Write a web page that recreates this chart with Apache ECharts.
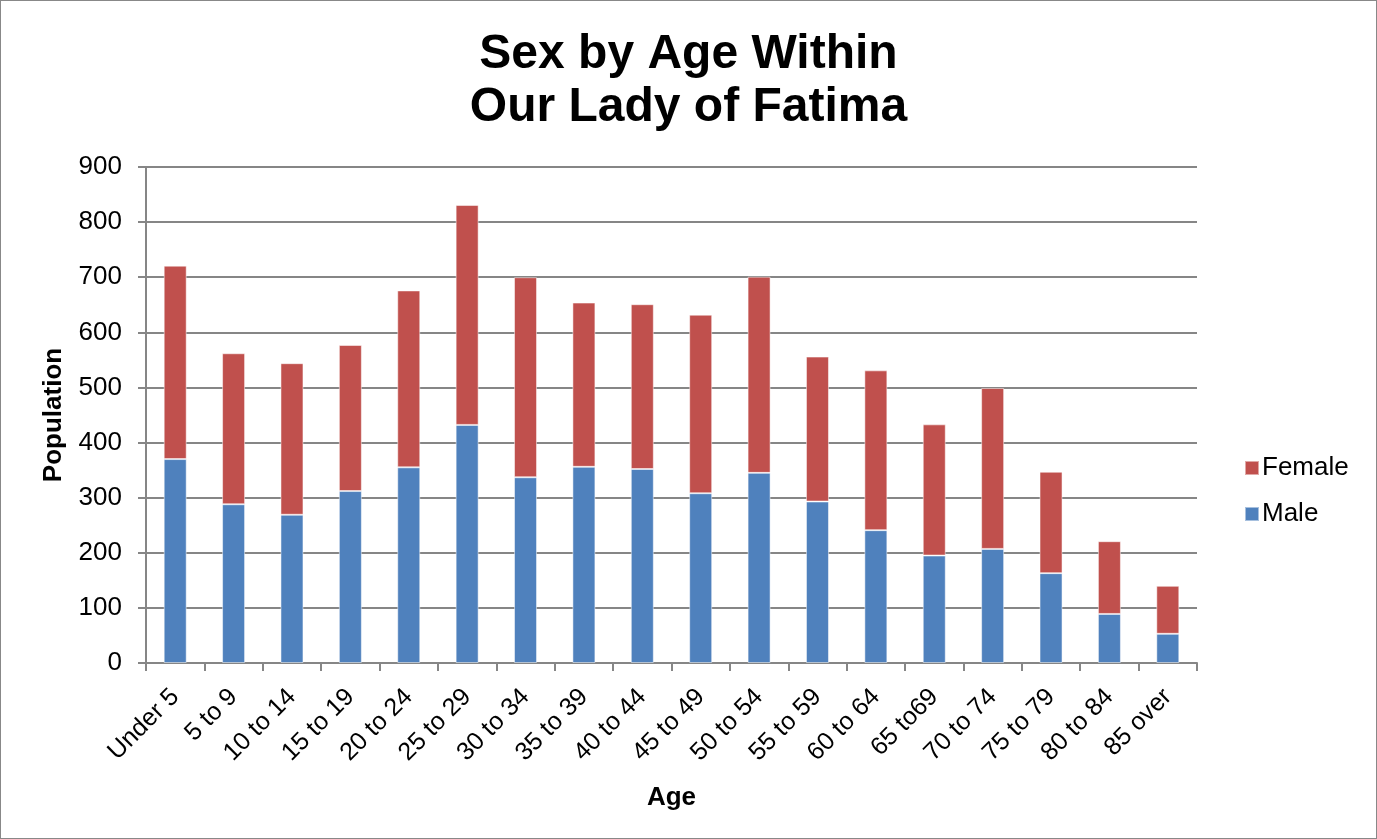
<!DOCTYPE html>
<html>
<head>
<meta charset="utf-8">
<script src="https://cdn.jsdelivr.net/npm/echarts@6/dist/echarts.min.js"></script>
<style>
html,body{margin:0;padding:0;background:#fff;}
#wrap{position:absolute;left:0;top:0;width:1375px;height:837px;border:1px solid #888;}
#chart{width:1375px;height:837px;}
</style>
</head>
<body>
<div id="wrap"><div id="chart"></div></div>
<script>
const categories = ['Under 5','5 to 9','10 to 14','15 to 19','20 to 24','25 to 29','30 to 34','35 to 39','40 to 44','45 to 49','50 to 54','55 to 59','60 to 64','65 to69','70 to 74','75 to 79','80 to 84','85 over'];
const male   = [370, 288, 269, 312, 355, 432, 337, 356, 352, 308, 345, 293, 241, 195, 207, 163, 89, 53];
const female = [351, 274, 275, 265, 321, 399, 363, 298, 299, 324, 356, 263, 290, 238, 292, 184, 132, 87];
const yTicks = [0, 100, 200, 300, 400, 500, 600, 700, 800, 900];

const font = '"Liberation Sans", Arial, sans-serif';
const chart = echarts.init(document.getElementById('chart'));
chart.setOption({
  animation: false,
  textStyle: { fontFamily: font },
  title: {
    text: 'Sex by Age Within\nOur Lady of Fatima',
    left: 'center',
    top: 22,
    textStyle: { fontFamily: font, fontSize: 48, fontWeight: 'bold', color: '#000', lineHeight: 53 }
  },
  legend: {
    orient: 'vertical',
    left: 1238,
    top: 449,
    itemWidth: 14,
    itemHeight: 14,
    itemGap: 20,
    icon: 'rect',
    data: ['Female', 'Male'],
    textStyle: { fontFamily: font, fontSize: 26, color: '#000', padding: [0, 0, 0, -2] }
  },
  grid: { left: 145, right: 179, top: 166, bottom: 175, containLabel: false },
  xAxis: {
    type: 'category',
    data: categories,
    name: 'Age',
    nameLocation: 'middle',
    nameGap: 122,
    nameTextStyle: { fontFamily: font, fontSize: 26, fontWeight: 'bold', color: '#000' },
    axisLine: { lineStyle: { color: '#868686', width: 2 } },
    axisTick: { show: true, length: 8, alignWithLabel: false, lineStyle: { color: '#868686', width: 2 } },
    axisLabel: { rotate: 45, fontSize: 25, color: '#000', margin: 30, fontFamily: font, interval: 0 }
  },
  yAxis: {
    type: 'value',
    min: 0, max: 900, interval: 100,
    name: 'Population',
    nameLocation: 'middle',
    nameGap: 79,
    nameTextStyle: { fontFamily: font, fontSize: 26, fontWeight: 'bold', color: '#000' },
    axisLine: { show: true, lineStyle: { color: '#868686', width: 2 } },
    axisTick: { show: true, length: 8, lineStyle: { color: '#868686', width: 2 } },
    axisLabel: { fontSize: 26, color: '#000', margin: 24, fontFamily: font,
      formatter: v => yTicks.includes(v) ? String(v) : '' },
    splitLine: { lineStyle: { color: '#868686', width: 2 } }
  },
  series: [
    { name: 'Male', type: 'bar', stack: 'pop', data: male, barWidth: 23,
      itemStyle: { color: '#4F81BD', borderColor: 'rgba(255,255,255,0.5)', borderWidth: 1 } },
    { name: 'Female', type: 'bar', stack: 'pop', data: female, barWidth: 23,
      itemStyle: { color: '#C0504D', borderColor: 'rgba(255,255,255,0.5)', borderWidth: 1 } }
  ]
});
</script>
</body>
</html>
